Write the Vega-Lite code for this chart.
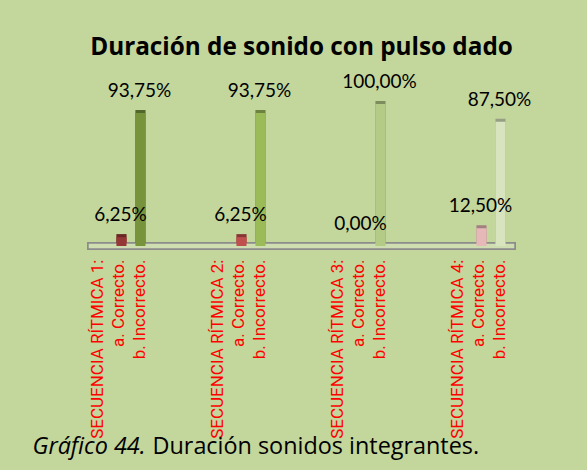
{
  "$schema": "https://vega.github.io/schema/vega-lite/v6.json",
  "width": 427,
  "height": 142,
  "autosize": {"type": "none"},
  "padding": {"left": 88, "top": 104, "right": 72, "bottom": 224},
  "background": "#c3d69b",
  "config": {
    "view": {"stroke": null},
    "font": "Lato",
    "locale": {"number": {"decimal": ",", "thousands": ".", "grouping": [3], "currency": ["", " €"]}}
  },
  "title": {
    "text": "Duración de sonido con pulso dado",
    "font": "Open Sans",
    "fontSize": 24.3,
    "fontWeight": "bold",
    "color": "#000000",
    "anchor": "middle",
    "frame": "group",
    "dx": 0,
    "offset": 13
  },
  "data": {
    "values": [
      {"secuencia": "SECUENCIA RÍTMICA 1:\na. Correcto.\nb. Incorrecto.", "respuesta": "a. Correcto.", "barra": "1a", "porcentaje": 0.0625},
      {"secuencia": "SECUENCIA RÍTMICA 1:\na. Correcto.\nb. Incorrecto.", "respuesta": "b. Incorrecto.", "barra": "1b", "porcentaje": 0.9375},
      {"secuencia": "SECUENCIA RÍTMICA 2:\na. Correcto.\nb. Incorrecto.", "respuesta": "a. Correcto.", "barra": "2a", "porcentaje": 0.0625},
      {"secuencia": "SECUENCIA RÍTMICA 2:\na. Correcto.\nb. Incorrecto.", "respuesta": "b. Incorrecto.", "barra": "2b", "porcentaje": 0.9375},
      {"secuencia": "SECUENCIA RÍTMICA 3:\na. Correcto.\nb. Incorrecto.", "respuesta": "a. Correcto.", "barra": "3a", "porcentaje": 0.0},
      {"secuencia": "SECUENCIA RÍTMICA 3:\na. Correcto.\nb. Incorrecto.", "respuesta": "b. Incorrecto.", "barra": "3b", "porcentaje": 1.0},
      {"secuencia": "SECUENCIA RÍTMICA 4:\na. Correcto.\nb. Incorrecto.", "respuesta": "a. Correcto.", "barra": "4a", "porcentaje": 0.125},
      {"secuencia": "SECUENCIA RÍTMICA 4:\na. Correcto.\nb. Incorrecto.", "respuesta": "b. Incorrecto.", "barra": "4b", "porcentaje": 0.875}
    ]
  },
  "layer": [
    {
      "mark": {"type": "rect", "fill": "#cfdeb0", "stroke": "#8c8c8c", "strokeWidth": 1.5, "yOffset": -3, "y2Offset": 3},
      "encoding": {
        "y": {"datum": 0, "type": "quantitative"},
        "y2": {"datum": 0}
      }
    },
    {
      "encoding": {
        "x": {
          "field": "secuencia",
          "type": "nominal",
          "sort": null,
          "scale": {"paddingInner": 0.758, "paddingOuter": 0.158, "align": 0.75},
          "title": "Duración sonidos integrantes.",
          "axis": {
            "labelExpr": "split(datum.label, '\\n')",
            "labelAngle": 270,
            "labelAlign": "right",
            "labelBaseline": "middle",
            "labelOffset": -33,
            "labelPadding": 13,
            "labelLineHeight": 21,
            "labelLimit": 0,
            "labelFont": "Roboto",
            "labelFontSize": 17,
            "labelColor": "#ff0000",
            "labelOverlap": false,
            "labelBound": false,
            "labelFlush": false,
            "ticks": false,
            "tickSize": 0,
            "domain": false,
            "titleX": 64,
            "titleY": 207,
            "titleAlign": "left",
            "titleAnchor": "start",
            "titleBaseline": "alphabetic",
            "titleFont": "Open Sans",
            "titleFontSize": 23.4,
            "titleFontWeight": "normal",
            "titleColor": "#000000"
          }
        },
        "xOffset": {"field": "respuesta", "type": "nominal", "scale": {"paddingInner": 0.47, "paddingOuter": 0}},
        "y": {
          "field": "porcentaje",
          "type": "quantitative",
          "scale": {"domain": [0, 1], "nice": false},
          "title": "Gráfico 44.",
          "axis": {
            "labels": false,
            "ticks": false,
            "domain": false,
            "grid": false,
            "titleAngle": 0,
            "titleX": -56,
            "titleY": 349,
            "titleAlign": "left",
            "titleBaseline": "alphabetic",
            "titleFont": "Open Sans",
            "titleFontSize": 23.4,
            "titleFontStyle": "italic",
            "titleFontWeight": "normal",
            "titleColor": "#000000"
          }
        },
        "color": {
          "field": "barra",
          "type": "nominal",
          "legend": null,
          "scale": {
            "domain": ["1a", "1b", "2a", "2b", "3a", "3b", "4a", "4b"],
            "range": ["#953735", "#77933c", "#c0504d", "#9bbb59", "#d99694", "#b3cb87", "#e6b9b8", "#d7e4bd"]
          }
        }
      },
      "layer": [
        {"mark": {"type": "bar", "xOffset": 3, "x2Offset": 3, "yOffset": -3, "y2Offset": -3}},
        {"mark": {"type": "bar", "xOffset": 3, "x2Offset": 3, "yOffset": -3, "y2Offset": -3, "opacity": 0.3}, "encoding": {"color": {"value": "#000000"}}},
        {"mark": {"type": "bar"}},
        {
          "mark": {"type": "text", "dy": -22, "dx": -1, "baseline": "middle", "font": "Lato", "fontSize": 19},
          "encoding": {
            "text": {"field": "porcentaje", "type": "quantitative", "format": ".2%"},
            "color": {"value": "#000000"}
          }
        }
      ]
    }
  ]
}
